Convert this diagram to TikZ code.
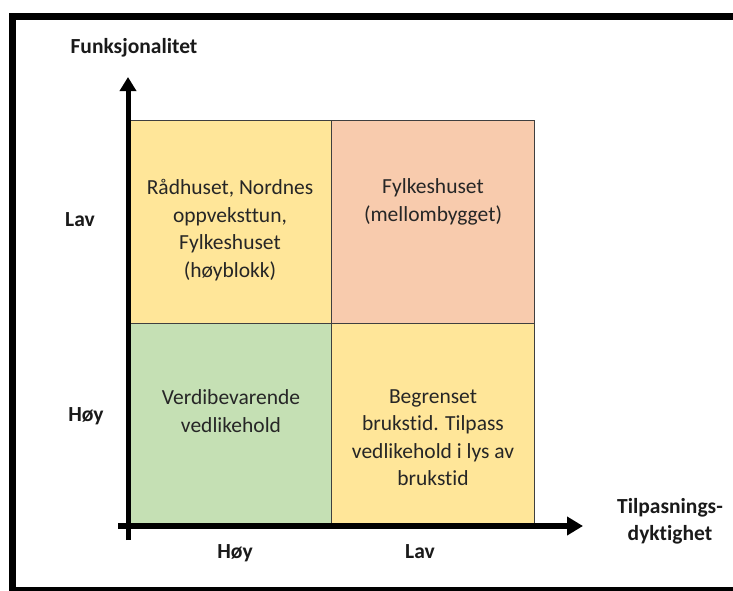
\documentclass[tikz,border=0pt]{standalone}
\usepackage{fontspec}
\setmainfont{Carlito}[Ligatures=NoCommon]
\usetikzlibrary{arrows.meta}
\definecolor{cellyellow}{HTML}{FFE699}
\definecolor{cellsalmon}{HTML}{F8CBAD}
\definecolor{cellgreen}{HTML}{C5E0B4}
\definecolor{celledge}{HTML}{3F3F3F}
\definecolor{celltext}{HTML}{262626}
\definecolor{labeltext}{HTML}{1A1A1A}
\begin{document}
\begin{tikzpicture}[x=1pt,y=-1pt,
  cell/.style={draw=celledge,line width=1pt,minimum width=203pt,minimum height=203pt,inner sep=0pt,anchor=north west},
  celltxt/.style={text=celltext,align=center,font=\fontsize{21.5}{27.5}\selectfont,inner sep=0pt},
  axislbl/.style={text=labeltext,font=\fontsize{21.5}{27}\selectfont\bfseries,align=center,inner sep=0pt,anchor=base},
  frameline/.style={line width=7.5pt}]
\useasboundingbox (0,0) rectangle (733,590);

% outer frame, running off the right and bottom edges
\begin{scope}
  \clip (0,0) rectangle (733,590);
  \draw[frameline] (12.5,16.5) rectangle (760,591);
\end{scope}

% the four quadrants
\node[cell,fill=cellyellow] (c11) at (128,120) {};
\node[cell,fill=cellsalmon] (c12) at (331,120) {};
\node[cell,fill=cellgreen]  (c21) at (128,323) {};
\node[cell,fill=cellyellow] (c22) at (331,323) {};

% quadrant texts
\node[celltxt] (t11) at (230,230) {Rådhuset, Nordnes\\oppveksttun,\\Fylkeshuset\\(høyblokk)};
\node[celltxt] (t12) at (433,202) {Fylkeshuset\\(mellombygget)};
\node[celltxt] (t21) at (231,411) {Verdibevarende\\vedlikehold};
\node[celltxt] (t22) at (433,437.5) {Begrenset\\brukstid. Tilpass\\vedlikehold i lys av\\brukstid};

% axes
\coordinate (ytop) at (128,77);
\coordinate (ybot) at (128,540);
\coordinate (xleft) at (118,526);
\coordinate (xright) at (583,526);
\draw[line width=5pt,-{Triangle[length=14pt,width=16pt]}] (ybot) -- (ytop);
\draw[line width=6pt,-{Triangle[length=16pt,width=18pt]}] (xleft) -- (xright);

% axis labels
\node[axislbl] (ylab) at (134,53) {Funksjonalitet};
\node[axislbl] (ylav) at (80,226) {Lav};
\node[axislbl] (yhoy) at (86,421) {Høy};
\node[axislbl] (xhoy) at (235,558) {Høy};
\node[axislbl] (xlav) at (420,558) {Lav};
\node[axislbl,anchor=center] (xlab) at (670,521) {Tilpasnings-\\dyktighet};
\end{tikzpicture}
\end{document}
